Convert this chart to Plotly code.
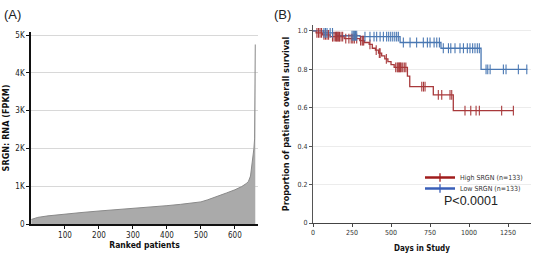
import plotly.graph_objects as go

# ---- Panel A: ranked SRGN expression ----
rank = [1, 20, 50, 100, 150, 200, 250, 300, 350, 400, 440, 470, 490, 500, 520, 550, 575, 600, 620, 635, 640, 646, 652, 656, 658, 659, 660]
fpkm = [120, 175, 215, 265, 305, 344, 375, 405, 440, 485, 520, 550, 565, 585, 640, 730, 820, 905, 990, 1080, 1130, 1270, 1660, 2000, 2250, 2950, 4750]

# ---- Panel B: Kaplan-Meier ----
high_t = [0, 20, 60, 110, 200, 300, 330, 360, 380, 400, 420, 440, 460, 480, 500, 520, 605, 620, 771, 899, 1284]
high_s = [1.0, 0.99, 0.98, 0.97, 0.96, 0.95, 0.94, 0.93, 0.91, 0.90, 0.885, 0.87, 0.855, 0.84, 0.825, 0.81, 0.765, 0.71, 0.667, 0.585, 0.585]
high_ct = [25, 35, 45, 55, 70, 80, 90, 100, 125, 135, 145, 150, 155, 160, 165, 170, 180, 190,
           210, 230, 245, 255, 265, 280, 305, 315, 320, 325, 365, 405, 425, 430, 470,
           530, 540, 545, 550, 555, 560, 565, 575, 585, 595, 697, 708, 718, 803, 825, 878, 889,
           974, 1011, 1045, 1066, 1209, 1284]

low_t = [0, 66, 151, 301, 558, 820, 1077, 1374]
low_s = [1.0, 0.99, 0.975, 0.97, 0.94, 0.91, 0.80, 0.80]
low_ct = [70, 80, 90, 110, 125, 250, 258, 265, 272, 280,
          333, 365, 391, 408, 430, 451, 472, 485, 498, 511, 524, 536, 547,
          579, 622, 664, 707, 733, 750, 776, 793, 810,
          835, 868, 883, 910, 942, 964, 989, 1006, 1023, 1038, 1053, 1066,
          1109, 1120, 1135, 1220, 1237, 1316, 1370]


def surv_at(times, survs, t):
    s = survs[0]
    for ti, si in zip(times, survs):
        if ti <= t:
            s = si
    return s


RED = "#a8393b"
BLUE = "#4a78b3"

fig = go.Figure()

fig.add_trace(go.Scatter(x=rank, y=fpkm, mode="lines", fill="tozeroy",
                         fillcolor="#aaaaaa", line=dict(color="#8a8a8a", width=1),
                         xaxis="x", yaxis="y", showlegend=False, hoverinfo="skip"))

fig.add_trace(go.Scatter(x=high_t, y=high_s, mode="lines", line=dict(color=RED, width=1.3, shape="hv"),
                         xaxis="x2", yaxis="y2", showlegend=False))
fig.add_trace(go.Scatter(x=low_t, y=low_s, mode="lines", line=dict(color=BLUE, width=1.3, shape="hv"),
                         xaxis="x2", yaxis="y2", showlegend=False))
fig.add_trace(go.Scatter(x=high_ct, y=[surv_at(high_t, high_s, t) for t in high_ct], mode="markers",
                         marker=dict(symbol="line-ns-open", size=7, color=RED, line=dict(color=RED, width=1.1)),
                         xaxis="x2", yaxis="y2", showlegend=False))
fig.add_trace(go.Scatter(x=low_ct, y=[surv_at(low_t, low_s, t) for t in low_ct], mode="markers",
                         marker=dict(symbol="line-ns-open", size=7, color=BLUE, line=dict(color=BLUE, width=1.1)),
                         xaxis="x2", yaxis="y2", showlegend=False))

# legend entries
fig.add_trace(go.Scatter(x=[None], y=[None], mode="lines+markers", name="High SRGN (n=133)",
                         line=dict(color="#a01c1c", width=2.5),
                         marker=dict(symbol="line-ns-open", size=6, color="#a01c1c", line=dict(width=1.3)),
                         xaxis="x2", yaxis="y2", legend="legend"))
fig.add_trace(go.Scatter(x=[None], y=[None], mode="lines+markers", name="Low SRGN (n=133)",
                         line=dict(color="#3a5fb8", width=2.5),
                         marker=dict(symbol="line-ns-open", size=6, color="#3a5fb8", line=dict(width=1.3)),
                         xaxis="x2", yaxis="y2", legend="legend2"))

W, H = 535, 256
def px_x(p):
    return p / W
def px_y(p):
    return 1 - p / H

tickfont_a = dict(family="DejaVu Sans Condensed, DejaVu Sans", size=8, color="#222")
tickfont_b = dict(family="DejaVu Sans Condensed, DejaVu Sans", size=7, color="#333")
titlefont_a = dict(family="DejaVu Sans Condensed, DejaVu Sans", size=8.5, color="#111", weight="bold")
titlefont_ay = dict(family="DejaVu Sans Condensed, DejaVu Sans", size=9, color="#111", weight="bold")
titlefont_bx = dict(family="DejaVu Sans Condensed, DejaVu Sans", size=8, color="#111", weight="bold")
titlefont_by = dict(family="DejaVu Sans Condensed, DejaVu Sans", size=9, color="#111", weight="bold")
legfont = dict(family="DejaVu Sans Condensed, DejaVu Sans", size=7, color="#333")

fig.update_layout(
    template="none",
    width=W, height=H, margin=dict(l=0, r=0, t=0, b=0),
    paper_bgcolor="white", plot_bgcolor="white",
    xaxis=dict(domain=[px_x(31), px_x(258)], range=[0, 668], tickvals=[100, 200, 300, 400, 500, 600],
               showgrid=False, zeroline=False, showline=True, linecolor="#111", linewidth=1.5,
               ticks="outside", ticklen=3, tickcolor="#111", tickfont=tickfont_a, automargin=False,
               title=dict(text="Ranked patients", font=titlefont_a, standoff=2), anchor="y"),
    yaxis=dict(domain=[px_y(224), px_y(32)], range=[0, 5080], tickvals=[0, 1000, 2000, 3000, 4000, 5000],
               ticktext=["0", "1K", "2K", "3K", "4K", "5K"],
               showgrid=True, gridcolor="#d8d8d8", gridwidth=1, zeroline=False,
               showline=True, linecolor="#111", linewidth=1.5, automargin=False,
               ticks="outside", ticklen=3, tickcolor="#111", tickfont=tickfont_a,
               title=dict(text="SRGN: RNA (FPKM)", font=titlefont_ay, standoff=4), anchor="x"),
    xaxis2=dict(domain=[px_x(313), px_x(531)], range=[0, 1397], tickvals=[0, 250, 500, 750, 1000, 1250],
                showgrid=False, zeroline=False, showline=True, linecolor="#444", linewidth=1,
                ticks="outside", ticklen=3, tickcolor="#444", tickfont=tickfont_b, automargin=False,
                title=dict(text="Days in Study", font=titlefont_bx, standoff=8), anchor="y2"),
    yaxis2=dict(domain=[px_y(223), px_y(25)], range=[0, 1.031], tickvals=[0, 0.2, 0.4, 0.6, 0.8, 1.0],
                ticktext=["0", "0.2", "0.4", "0.6", "0.8", "1.0"],
                showgrid=True, gridcolor="#ececec", gridwidth=1, zeroline=False,
                showline=True, linecolor="#555", linewidth=1, automargin=False,
                ticks="outside", ticklen=3, tickcolor="#555", tickfont=tickfont_b,
                title=dict(text="Proportion of patients overall survival", font=titlefont_by, standoff=6), anchor="x2"),
    legend=dict(x=px_x(420), y=px_y(163), xanchor="left", yanchor="top", font=legfont,
                bgcolor="rgba(0,0,0,0)", itemwidth=30, tracegroupgap=0, borderwidth=0),
    legend2=dict(x=px_x(420), y=px_y(174), xanchor="left", yanchor="top", font=legfont,
                 bgcolor="rgba(0,0,0,0)", itemwidth=30, tracegroupgap=0, borderwidth=0),
    annotations=[
        dict(text="(A)", x=px_x(2), y=px_y(14), xref="paper", yref="paper", xanchor="left", yanchor="middle",
             showarrow=False, font=dict(family="Liberation Sans, Arial", size=13, color="#222")),
        dict(text="(B)", x=px_x(272), y=px_y(14), xref="paper", yref="paper", xanchor="left", yanchor="middle",
             showarrow=False, font=dict(family="Liberation Sans, Arial", size=13, color="#222")),
        dict(text="P<0.0001", x=px_x(442), y=px_y(201), xref="paper", yref="paper", xanchor="left", yanchor="middle",
             showarrow=False, font=dict(family="Liberation Sans, Arial", size=12.5, color="#222")),
    ],
)

fig.write_html("out.html", config={"displayModeBar": False},
               post_script="document.body.style.margin='0';document.body.style.padding='0';")
